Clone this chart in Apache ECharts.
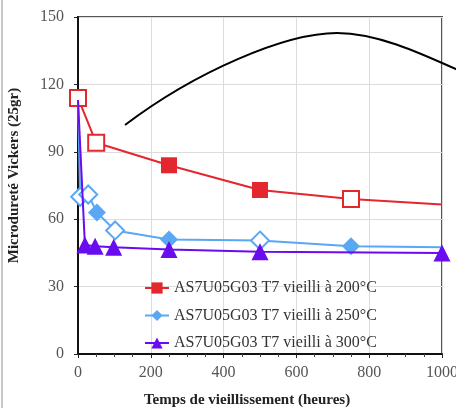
<!DOCTYPE html>
<html>
<head>
<meta charset="utf-8">
<script src="https://cdn.jsdelivr.net/npm/echarts@6/dist/echarts.min.js"></script>
<style>
  html, body { margin: 0; padding: 0; background: #fff; }
  #chart { width: 456px; height: 408px; }
</style>
</head>
<body>
<div id="chart"></div>
<script>
// Ageing time (hours) and Vickers microhardness (25 g) for each ageing temperature
const hours200 = [0, 50, 250, 500, 750, 1000];
const hv200    = [114, 94, 84, 73, 69, 66.5];

const hours250 = [0, 6, 28, 52, 102, 250, 500, 750, 1000];
const hv250    = [113, 70, 71, 63, 55, 51, 50.5, 48, 47.5];

const hours300 = [0, 19, 47, 98, 250, 500, 1000];
const hv300    = [113, 48.5, 48, 47.5, 46.5, 45.5, 45];

const seriesNames = [
  'AS7U05G03 T7 vieilli à 200°C',
  'AS7U05G03 T7 vieilli à 250°C',
  'AS7U05G03 T7 vieilli à 300°C'
];

const xTicks = [0, 200, 400, 600, 800, 1000];
const yTicks = [0, 30, 60, 90, 120, 150];

// Marker appearance per point index: open markers, and points drawn without a marker
const open200 = [0, 1, 4];
const bare200 = [5];
const open250 = [1, 2, 4, 6];
const bare250 = [0, 8];
const bare300 = [0];

const RED = '#e4262e';
const BLUE = '#5aa8f4';
const PURPLE = '#6a0cf0';
const SERIF = '"Liberation Serif", "Times New Roman", serif';

function buildData(xs, ys, color, openIdx, bareIdx) {
  return xs.map((x, i) => {
    const item = { value: [x, ys[i]] };
    if (bareIdx.includes(i)) {
      item.symbol = 'none';
    } else if (openIdx.includes(i)) {
      item.itemStyle = { color: '#ffffff', borderColor: color, borderWidth: 2 };
    }
    return item;
  });
}

const chart = echarts.init(document.getElementById('chart'));

const arcStyle = { stroke: '#000', lineWidth: 2, fill: null };

chart.setOption({
  animation: false,
  backgroundColor: '#ffffff',
  grid: {
    left: 78, top: 17, width: 364, height: 337,
    outerBoundsMode: 'none', containLabel: false,
    show: true, borderColor: '#555', borderWidth: 2, backgroundColor: 'transparent'
  },
  legend: {
    orient: 'vertical',
    left: 139, top: 275,
    itemWidth: 24, itemHeight: 14, itemGap: 11.5,
    textStyle: { fontFamily: SERIF, fontSize: 16, color: '#333' },
    data: seriesNames
  },
  xAxis: {
    type: 'value',
    min: xTicks[0], max: xTicks[xTicks.length - 1], interval: 200,
    name: 'Temps de vieillissement (heures)',
    nameLocation: 'middle', nameGap: 39,
    nameTextStyle: { fontFamily: SERIF, fontSize: 15, fontWeight: 'bold', color: '#222', padding: [0, 26, 0, 0] },
    axisLine: { show: true, lineStyle: { color: '#111', width: 2 } },
    axisTick: { show: true, inside: false, length: 4, lineStyle: { color: '#222' } },
    minorTick: { show: true, splitNumber: 4, length: 3, lineStyle: { color: '#444' } },
    axisLabel: {
      fontFamily: SERIF, fontSize: 16, color: '#555', margin: 11, showMaxLabel: true,
      formatter: v => String(v)
    },
    splitLine: { show: true, lineStyle: { color: '#dcdcdc', width: 1 } }
  },
  yAxis: {
    type: 'value',
    min: yTicks[0], max: yTicks[yTicks.length - 1], interval: 30,
    name: 'Microdureté Vickers (25gr)',
    nameLocation: 'middle', nameGap: 56,
    nameTextStyle: { fontFamily: SERIF, fontSize: 15, fontWeight: 'bold', color: '#222', padding: [0, 0, 0, 20] },
    axisLine: { show: true, lineStyle: { color: '#111', width: 2 } },
    axisTick: { show: true, inside: false, length: 4, lineStyle: { color: '#222' } },
    axisLabel: { fontFamily: SERIF, fontSize: 16, color: '#555', margin: 14 },
    splitLine: { show: true, lineStyle: { color: '#dcdcdc', width: 1 } }
  },
  series: [
    {
      name: seriesNames[0], type: 'line',
      symbol: 'rect', symbolSize: 16,
      lineStyle: { color: RED, width: 2 },
      itemStyle: { color: RED },
      data: buildData(hours200, hv200, RED, open200, bare200),
      z: 3
    },
    {
      name: seriesNames[1], type: 'line',
      symbol: 'diamond', symbolSize: 18,
      lineStyle: { color: BLUE, width: 2 },
      itemStyle: { color: BLUE },
      data: buildData(hours250, hv250, BLUE, open250, bare250),
      z: 4
    },
    {
      name: seriesNames[2], type: 'line',
      symbol: 'triangle', symbolSize: 17,
      lineStyle: { color: PURPLE, width: 2 },
      itemStyle: { color: PURPLE },
      data: buildData(hours300, hv300, PURPLE, [], bare300),
      z: 5
    }
  ],
  graphic: [
    // outer frame edge on the left
    {
      type: 'line', z: 10,
      shape: { x1: 2, y1: 0, x2: 2, y2: 408 },
      style: { stroke: '#b5b5b5', lineWidth: 1.5 }
    },
    // hand-drawn arc annotation: rising half, then falling half from the crest
    {
      type: 'bezierCurve', z: 10,
      shape: { x1: 125, y1: 125, cpx1: 195, cpy1: 72, cpx2: 285, cpy2: 33, x2: 337, y2: 33 },
      style: arcStyle
    },
    {
      type: 'bezierCurve', z: 10,
      shape: { x1: 337, y1: 33, cpx1: 377, cpy1: 33, cpx2: 420, cpy2: 53, x2: 460, y2: 71 },
      style: arcStyle
    }
  ]
});
</script>
</body>
</html>
